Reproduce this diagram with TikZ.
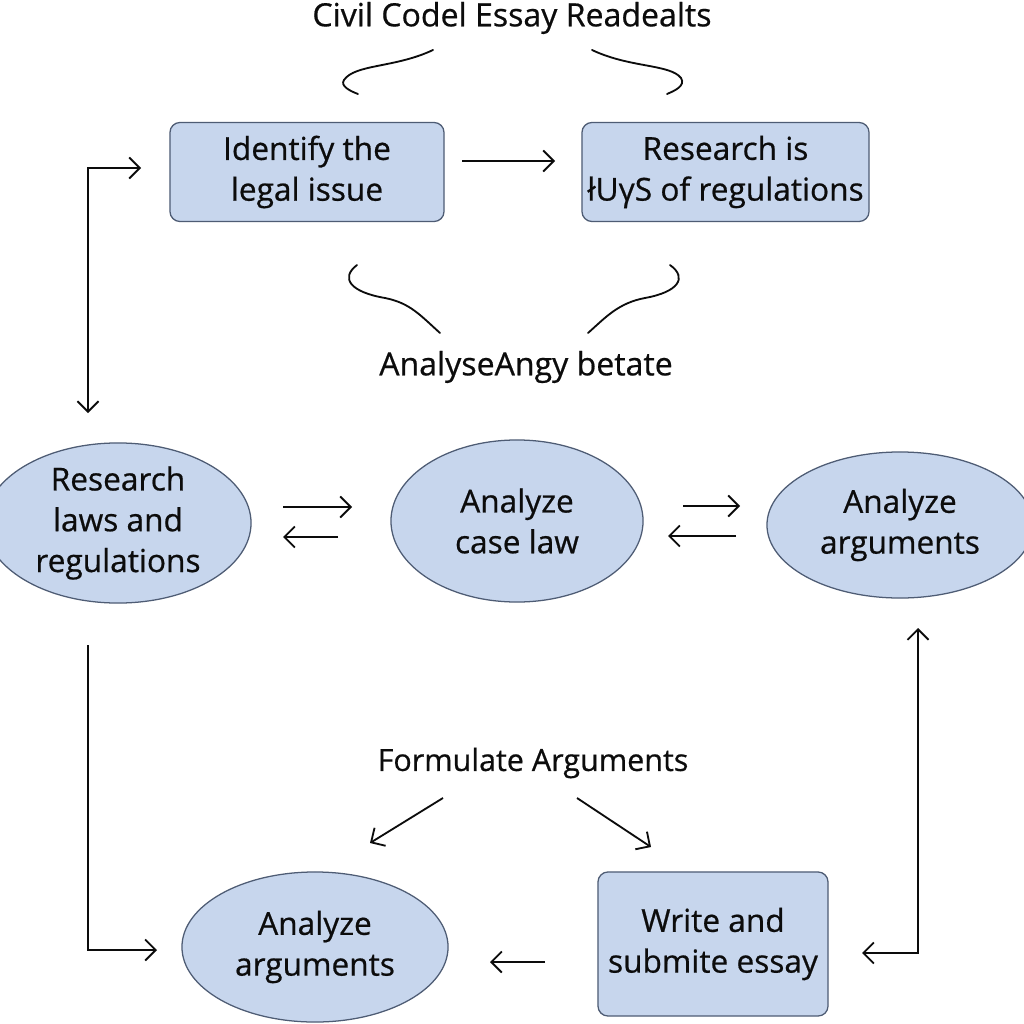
\documentclass[tikz,border=0pt]{standalone}
\usepackage{fontspec}
\setmainfont{Open Sans}[FakeBold=0.6]
\usetikzlibrary{arrows.meta,shapes.geometric}
\definecolor{boxfill}{RGB}{199,214,237}
\definecolor{boxline}{RGB}{78,92,116}
\definecolor{ink}{RGB}{12,12,12}
\tikzset{
  txt/.style={font=\fontsize{22.5}{29}\selectfont, text=ink, align=center},
  lbl/.style={txt, font=\fontsize{22.8}{29}\selectfont},
  rbox/.style={txt, rectangle, rounded corners=0.25cm, fill=boxfill, draw=boxline, line width=0.9pt, inner sep=0pt},
  ebox/.style={txt, ellipse, fill=boxfill, draw=boxline, line width=0.9pt, inner sep=0pt},
  conn/.style={draw=ink, line width=1.3pt},
  arr/.style={conn, -{Straight Barb[length=7.5pt,width=15pt,line width=1.3pt]}},
  darr/.style={conn, {Straight Barb[length=7.5pt,width=15pt,line width=1.3pt]}-{Straight Barb[length=7.5pt,width=15pt,line width=1.3pt]}},
  curve/.style={draw=ink, line width=1.3pt, line cap=round},
}
\begin{document}
\begin{tikzpicture}[x=0.025cm, y=-0.025cm]
\useasboundingbox[fill=white] (0,0) rectangle (1024,1024);

% title and labels
\node[lbl] (title) at (512,18) {Civil Codel Essay Readealts};
\node[lbl] (mid) at (526,367) {AnalyseAngy betate};
\node[lbl, font=\fontsize{21.7}{28}\selectfont] (form) at (533,763) {Formulate Arguments};

% boxes
\node[rbox, minimum width=6.85cm, minimum height=2.475cm] (b1) at (307,172) {Identify the\\legal issue};
\node[rbox, minimum width=7.175cm, minimum height=2.475cm] (b2) at (725.5,172) {Research is\\łUγS of regulations};
\node[rbox, minimum width=5.75cm, minimum height=3.6cm] (b3) at (713,944) {Write and\\submite essay};

% ellipses
\node[ebox, minimum width=6.65cm, minimum height=3.75cm] (e1) at (118,523) {Research\\laws and\\regulations};
\node[ebox, minimum width=6.3cm, minimum height=4.05cm] (e2) at (517,521) {Analyze\\case law};
\node[ebox, minimum width=6.65cm, minimum height=3.65cm] (e3) at (900,525) {Analyze\\arguments};
\node[ebox, minimum width=6.65cm, minimum height=3.75cm] (e4) at (315,947) {Analyze\\arguments};

% top curves
\coordinate (tl1) at (433,50); \coordinate (tl2) at (358,94);
\coordinate (tr1) at (592,50); \coordinate (tr2) at (667,94);
\draw[curve] (tl1) .. controls (395,68) and (355,64) .. (344,80) .. controls (340,86) and (350,91) .. (tl2);
\draw[curve] (tr1) .. controls (630,68) and (670,64) .. (681,78) .. controls (686,86) and (674,91) .. (tr2);

% middle curves
\coordinate (ml1) at (357,265); \coordinate (ml2) at (440,333);
\coordinate (mr1) at (670,265); \coordinate (mr2) at (588,333);
\draw[curve] (ml1) .. controls (340,278) and (350,292) .. (385,298) .. controls (410,303) and (420,315) .. (ml2);
\draw[curve] (mr1) .. controls (688,278) and (678,292) .. (645,298) .. controls (618,303) and (605,318) .. (mr2);

% box1 -> box2
\coordinate (a1s) at (462,161); \coordinate (a1e) at (555,161);
\draw[arr] (a1s) -- (a1e);

% left loop arrow (both ends)
\coordinate (l1) at (88,413); \coordinate (l2) at (141,168);
\draw[darr] (l1) |- (l2);

% ellipse row arrows
\coordinate (r1s) at (283,507); \coordinate (r1e) at (352,507);
\coordinate (r2s) at (338,537); \coordinate (r2e) at (283,537);
\coordinate (r3s) at (683,506); \coordinate (r3e) at (740,506);
\coordinate (r4s) at (736,536); \coordinate (r4e) at (668,536);
\draw[arr] (r1s) -- (r1e);
\draw[arr] (r2s) -- (r2e);
\draw[arr] (r3s) -- (r3e);
\draw[arr] (r4s) -- (r4e);

% left down line to e4
\coordinate (d1) at (88,645); \coordinate (d2) at (157,950);
\draw[arr] (d1) |- (d2);

% formulate arrows
\coordinate (f1s) at (443,798); \coordinate (f1e) at (370,843);
\coordinate (f2s) at (577,798); \coordinate (f2e) at (651,847);
\draw[arr] (f1s) -- (f1e);
\draw[arr] (f2s) -- (f2e);

% b3 -> e4
\coordinate (w1s) at (545,962); \coordinate (w1e) at (490,962);
\draw[arr] (w1s) -- (w1e);

% right loop arrow (both ends)
\coordinate (rr1) at (862,953); \coordinate (rr2) at (918,628);
\draw[darr] (rr1) -| (rr2);
\end{tikzpicture}
\end{document}
